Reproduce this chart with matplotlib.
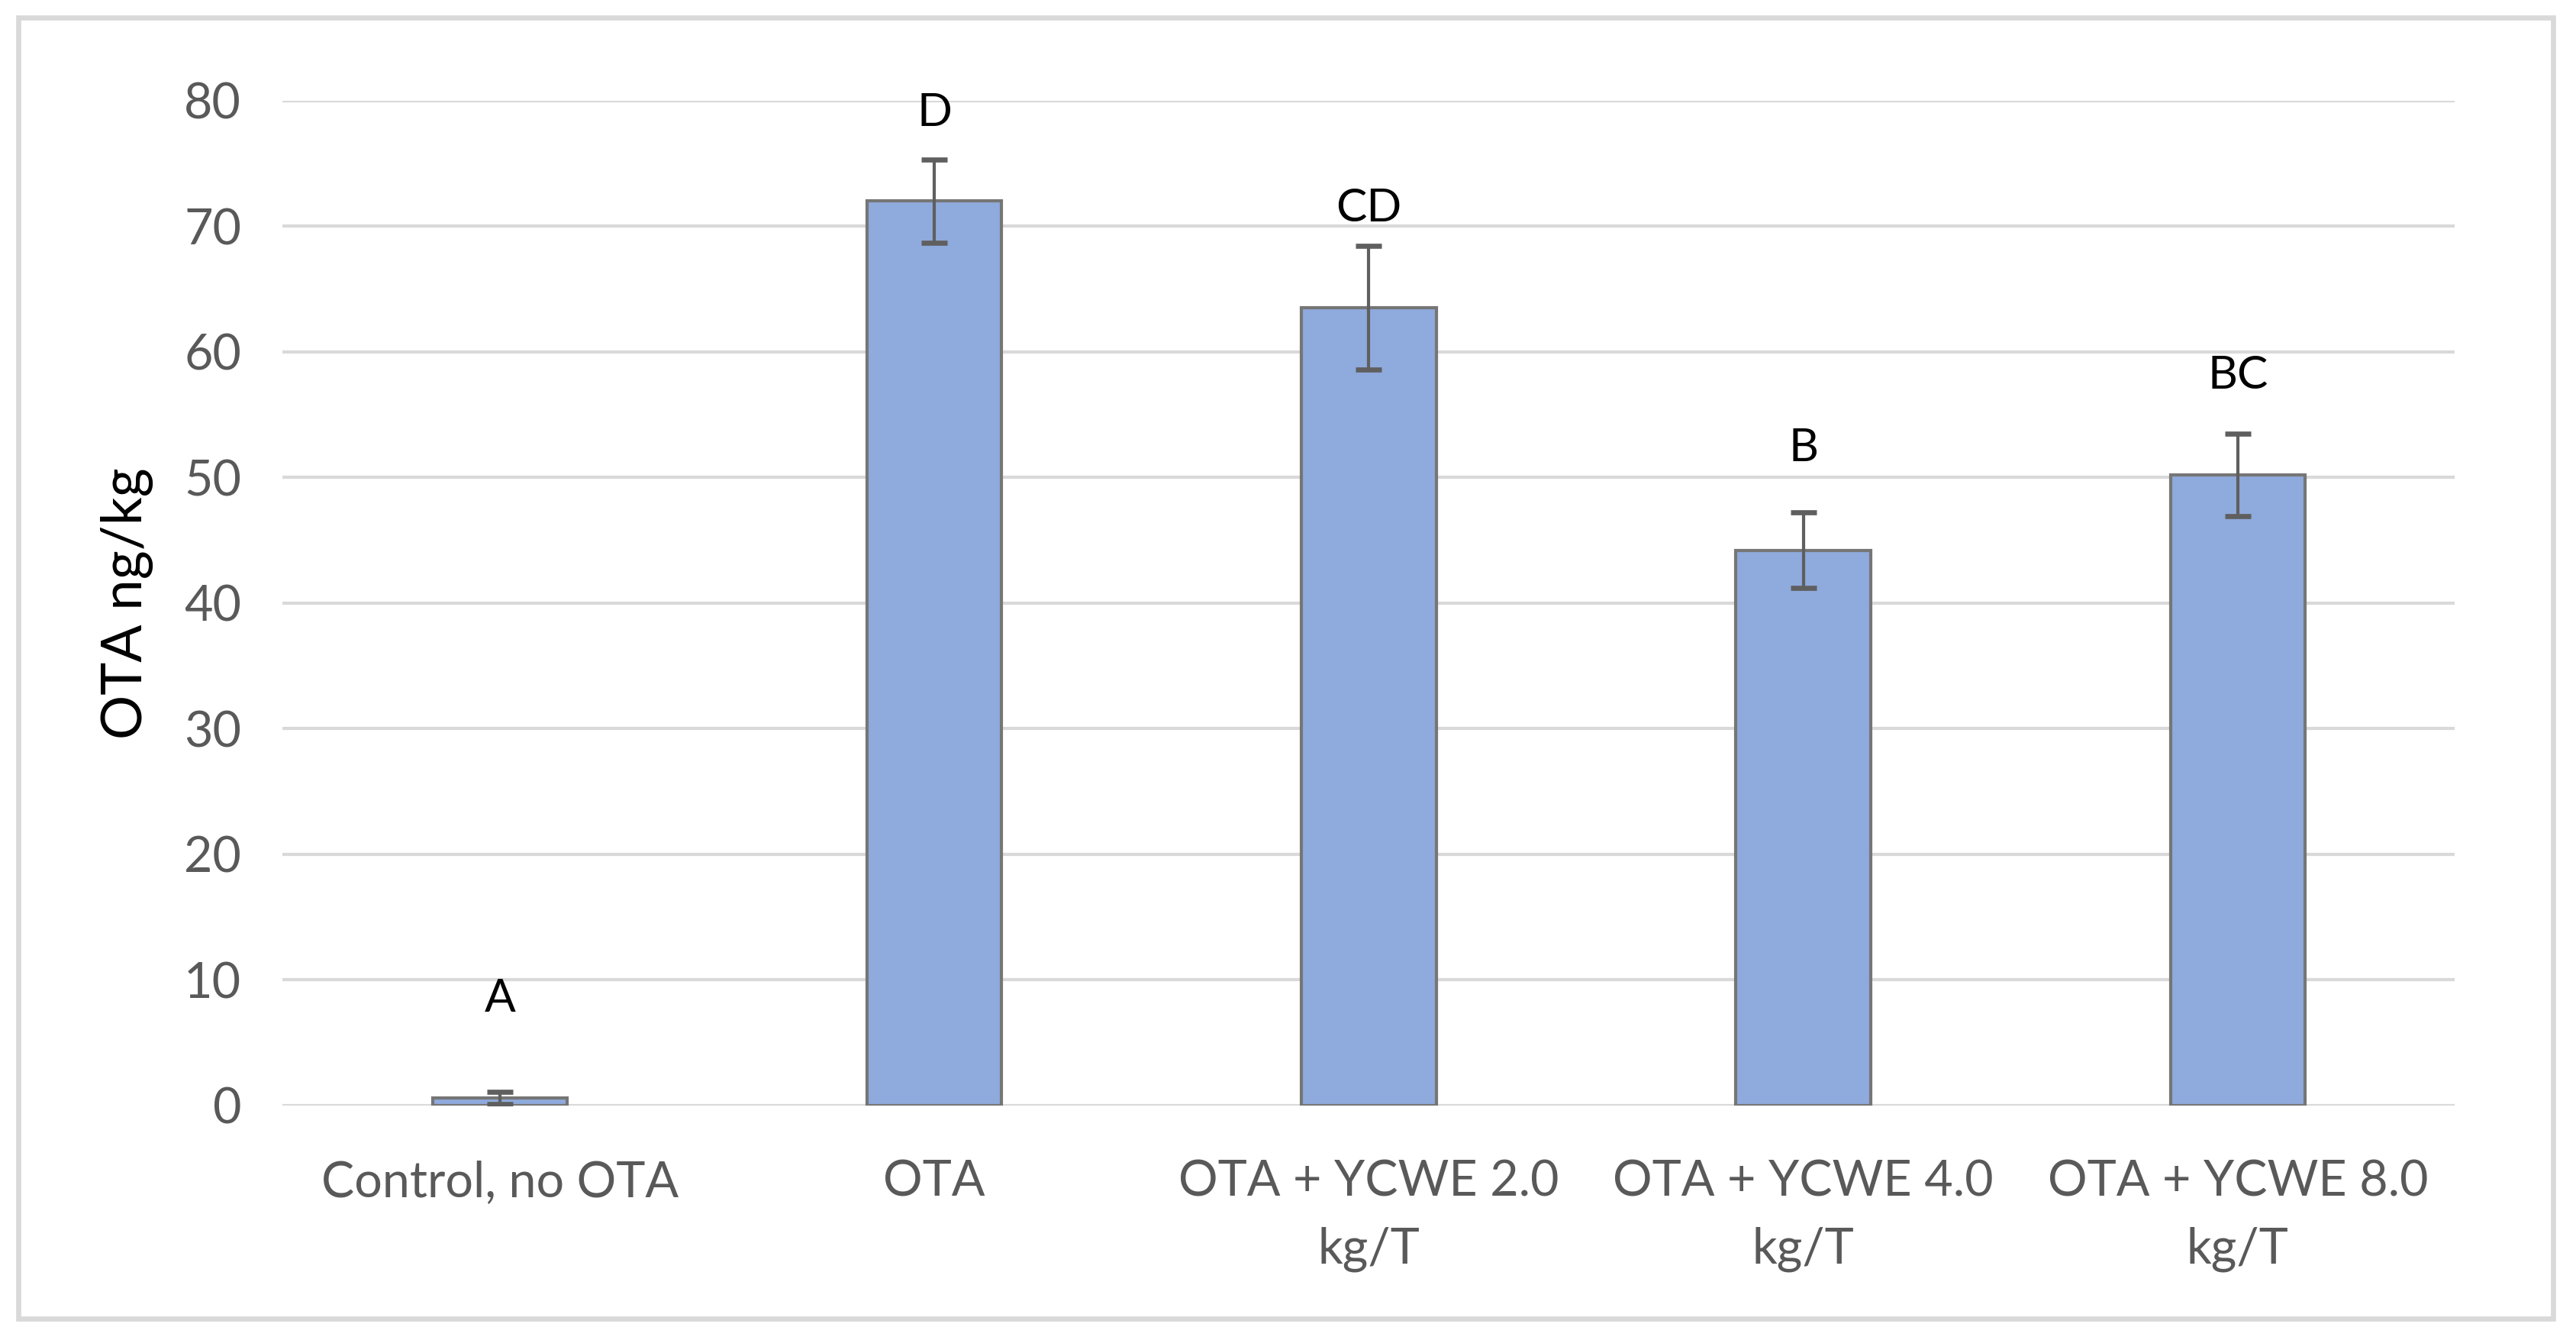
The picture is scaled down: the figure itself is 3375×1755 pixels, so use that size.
import numpy as np
import matplotlib.pyplot as plt
from matplotlib.patches import Rectangle

# data
categories = ["Control, no OTA", "OTA", "OTA + YCWE 2.0\nkg/T",
              "OTA + YCWE 4.0\nkg/T", "OTA + YCWE 8.0\nkg/T"]
ota_mean = [0.6, 72.0, 63.5, 44.2, 50.2]
ota_err = [0.5, 3.3, 4.9, 3.0, 3.3]
letters = ["A", "D", "CD", "B", "BC"]
letter_y = [8.5, 79.0, 71.4, 52.3, 58.1]
yticks = [0, 10, 20, 30, 40, 50, 60, 70, 80]

plt.rcParams['font.family'] = ['Lato', 'DejaVu Sans']

fig = plt.figure(figsize=(11.25, 5.85), dpi=300)
ax = fig.add_axes([0.1097, 0.175, 0.8433, 0.750])

x = np.arange(len(categories))
ax.bar(x, ota_mean, width=0.31, color='#8faadc', edgecolor='#767676',
       linewidth=1.0, zorder=3)
ax.errorbar(x, ota_mean, yerr=ota_err, fmt='none', ecolor='#5f5f5f',
            elinewidth=1.0, capsize=4, capthick=1.6, zorder=4)

for xi, lab, ly in zip(x, letters, letter_y):
    ax.text(xi, ly, lab, ha='center', va='center', fontsize=14.5, color='black')

ax.set_xlim(-0.5, 4.5)
ax.set_ylim(0, 80)
ax.set_yticks(yticks)
ax.set_xticks(x)
ax.set_xticklabels(categories, fontsize=15.5, color='#595959', linespacing=1.6)
ax.tick_params(axis='y', labelsize=15.5, labelcolor='#595959', length=0, pad=13)
ax.tick_params(axis='x', length=0, pad=17)
ax.yaxis.grid(True, color='#d9d9d9', linewidth=1.0, zorder=0)
ax.set_axisbelow(True)
for s in ax.spines.values():
    s.set_visible(False)
ax.set_ylabel('OTA ng/kg', fontsize=17.5, color='black', labelpad=9.5)

# outer frame
fig.patches.append(Rectangle((0.007, 0.016), 0.984, 0.971, transform=fig.transFigure,
                             fill=False, edgecolor='#d9d9d9', linewidth=1.6))

fig.savefig('out.png', dpi=300, facecolor='white')
